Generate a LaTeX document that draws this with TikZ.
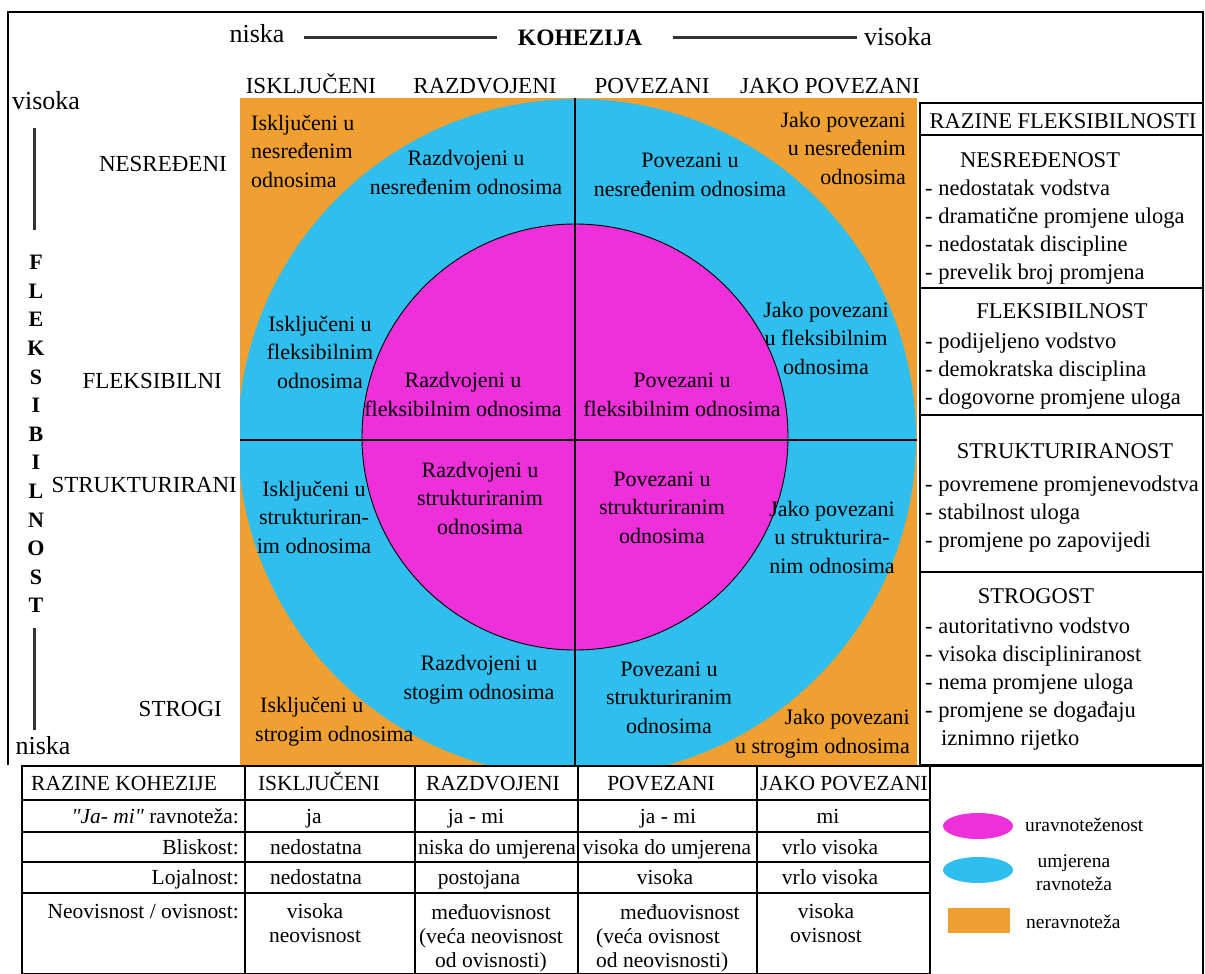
\documentclass[tikz,border=0pt]{standalone}
\usepackage{fontspec}
\setmainfont{Liberation Serif}
\newfontfamily\rawserif{Liberation Serif}[Ligatures=ResetAll]
\definecolor{orng}{RGB}{240,160,48}
\definecolor{blu}{RGB}{48,190,238}
\definecolor{mag}{RGB}{238,48,218}
\begin{document}
\begin{tikzpicture}[x=1pt,y=-1pt,
  txt/.style={font=\fontsize{22}{28.5}\selectfont, inner sep=0pt, align=center, text=black},
  capt/.style={txt, font=\fontsize{23}{28}\selectfont},
  bigt/.style={txt, font=\fontsize{26}{28}\selectfont},
  lst/.style={font=\fontsize{22.5}{27.8}\selectfont, inner sep=0pt, align=left, anchor=base west},
  phd/.style={txt, font=\fontsize{22.5}{28}\selectfont, anchor=base},
  tbl/.style={font=\fontsize{21.5}{24}\selectfont, inner sep=0pt, align=center},
  leg/.style={font=\fontsize{19.5}{23}\selectfont, inner sep=0pt, align=center},
  axisline/.style={line width=3pt, black!80},
  gridline/.style={line width=1.2pt, black},
  quad/.style={line width=2.8pt, black}]
\useasboundingbox (0,0) rectangle (1205,974);
\fill[white] (0,0) rectangle (1205,974);

% outer frame
\draw[gridline] (8,765) -- (8,12) -- (1203,12) -- (1203,974);

% ---------- circle model ----------
\fill[orng] (240,98) rectangle (917,765);
\begin{scope}
  \clip (240,98) rectangle (917,765);
  \fill[blu] (577,438) circle[radius=339pt];
\end{scope}
\filldraw[fill=mag, draw=black, line width=0.9pt] (575,437) circle[radius=213pt];
\draw[quad] (575,98) -- (575,765);
\draw[quad] (240,440) -- (917,440);

% ---------- top axis ----------
\node[bigt, anchor=base] (niskaT) at (257,43) {niska};
\node[txt, anchor=base, font=\bfseries\fontsize{23.5}{28}\selectfont] (koh) at (580,46) {KOHEZIJA};
\node[bigt, anchor=base] (visokaT) at (898,46) {visoka};
\draw[axisline] (304,38) -- (497,38);
\draw[axisline] (673,38) -- (857,38);

\node[capt, anchor=base] (cIsk) at (311,93) {ISKLJUČENI};
\node[capt, anchor=base] (cRaz) at (485,93) {RAZDVOJENI};
\node[capt, anchor=base] (cPov) at (652,93) {POVEZANI};
\node[capt, anchor=base] (cJak) at (830,93) {JAKO POVEZANI};

% ---------- left axis ----------
\node[bigt, anchor=base] (visokaL) at (46,110) {visoka};
\node[bigt, anchor=base] (niskaL) at (43,754) {niska};
\draw[axisline] (34,128) -- (34,230);
\draw[axisline] (34,628) -- (34,730);
\node[txt, font=\bfseries\fontsize{22}{28.6}\selectfont] (fleks) at (36,434)
  {F\\L\\E\\K\\S\\I\\B\\I\\L\\N\\O\\S\\T};

\node[capt, anchor=base east] (rNes) at (227,171) {NESREĐENI};
\node[capt, anchor=base east] (rFle) at (222,388) {FLEKSIBILNI};
\node[capt, anchor=base east] (rStr) at (237,492) {STRUKTURIRANI};
\node[capt, anchor=base east] (rSto) at (222,716) {STROGI};

% ---------- cell labels (anchor = baseline of last line) ----------
\node[txt, align=left, anchor=base west] (q11) at (251,187) {Isključeni u\\nesređenim\\odnosima};
\node[txt, anchor=base] (q12) at (466,194) {Razdvojeni u\\nesređenim odnosima};
\node[txt, anchor=base] (q13) at (690,196) {Povezani u\\nesređenim odnosima};
\node[txt, align=right, anchor=base east] (q14) at (906,184) {Jako povezani\\u nesređenim\\odnosima};

\node[txt, anchor=base] (q21) at (320,388) {Isključeni u\\fleksibilnim\\odnosima};
\node[txt, anchor=base] (q22) at (463,416) {Razdvojeni u\\fleksibilnim odnosima};
\node[txt, anchor=base] (q23) at (682,416) {Povezani u\\fleksibilnim odnosima};
\node[txt, anchor=base] (q24) at (826,374) {Jako povezani\\u fleksibilnim\\odnosima};

\node[txt, anchor=base] (q31) at (314,553) {Isključeni u\\strukturiran-\\im odnosima};
\node[txt, anchor=base] (q32) at (480,534) {Razdvojeni u\\strukturiranim\\odnosima};
\node[txt, anchor=base] (q33) at (662,543) {Povezani u\\strukturiranim\\odnosima};
\node[txt, anchor=base] (q34) at (832,573) {Jako povezani\\u strukturira-\\nim odnosima};

\node[txt, align=left, anchor=base west] (q41) at (255,741) {\hspace*{5pt}Isključeni u\\strogim odnosima};
\node[txt, anchor=base] (q42) at (479,699) {Razdvojeni u\\stogim odnosima};
\node[txt, anchor=base] (q43) at (669,733) {Povezani u\\strukturiranim\\odnosima};
\node[txt, align=right, anchor=base east] (q44) at (910,753) {Jako povezani\\u strogim odnosima};

% ---------- right panel ----------
\draw[gridline] (920,103) rectangle (1203,765);
\draw[line width=2.2pt] (920,135) -- (1203,135);
\draw[gridline] (920,288) -- (1203,288);
\draw[gridline] (920,415) -- (1203,415);
\draw[gridline] (920,572) -- (1203,572);

\node[phd] (rz) at (1063,128) {RAZINE FLEKSIBILNOSTI};
\node[phd] (hNes) at (1040,167) {NESREĐENOST};
\node[lst] (lNes) at (925,279) {- nedostatak vodstva\\- dramatične promjene uloga\\- nedostatak discipline\\- prevelik broj promjena};
\node[phd] (hFle) at (1062,318) {FLEKSIBILNOST};
\node[lst] (lFle) at (925,404) {- podijeljeno vodstvo\\- demokratska disciplina\\- dogovorne promjene uloga};
\node[phd] (hStr) at (1065,458) {STRUKTURIRANOST};
\node[lst] (lStr) at (925,547) {- povremene promjenevodstva\\- stabilnost uloga\\- promjene po zapovijedi};
\node[phd] (hSto) at (1036,603) {STROGOST};
\node[lst] (lSto) at (925,745) {- autoritativno vodstvo\\- visoka discipliniranost\\- nema promjene uloga\\- promjene se događaju\\\hspace*{16pt}iznimno rijetko};

% ---------- bottom table ----------
\draw[gridline] (22,766) rectangle (930,974);
\foreach \yy in {800,832,862,893} \draw[gridline] (22,\yy) -- (930,\yy);
\foreach \xx in {245,415,578,757} \draw[gridline] (\xx,766) -- (\xx,974);

\node[tbl, anchor=base west] (tH0) at (31,790) {RAZINE KOHEZIJE};
\node[tbl, anchor=base] (tH1) at (319,790) {ISKLJUČENI};
\node[tbl, anchor=base] (tH2) at (493,790) {RAZDVOJENI};
\node[tbl, anchor=base] (tH3) at (661,790) {POVEZANI};
\node[tbl, anchor=base] (tH4) at (844,790) {JAKO POVEZANI};

\node[tbl, anchor=base east] (tA0) at (239,823) {{\rawserif\itshape "Ja- mi"} ravnoteža:};
\node[tbl, anchor=base] (tA1) at (314,823) {ja};
\node[tbl, anchor=base] (tA2) at (476,823) {ja - mi};
\node[tbl, anchor=base] (tA3) at (668,823) {ja - mi};
\node[tbl, anchor=base] (tA4) at (828,823) {mi};

\node[tbl, anchor=base east] (tB0) at (239,854) {Bliskost:};
\node[tbl, anchor=base] (tB1) at (316,854) {nedostatna};
\node[tbl, anchor=base] (tB2) at (497,854) {niska do umjerena};
\node[tbl, anchor=base] (tB3) at (667,854) {visoka do umjerena};
\node[tbl, anchor=base] (tB4) at (830,854) {vrlo visoka};

\node[tbl, anchor=base east] (tC0) at (239,884) {Lojalnost:};
\node[tbl, anchor=base] (tC1) at (316,884) {nedostatna};
\node[tbl, anchor=base] (tC2) at (479,884) {postojana};
\node[tbl, anchor=base] (tC3) at (665,884) {visoka};
\node[tbl, anchor=base] (tC4) at (830,884) {vrlo visoka};

\node[tbl, anchor=base east] (tD0) at (239,918) {Neovisnost / ovisnost:};
\node[tbl, anchor=base] (tD1) at (315,942) {visoka\\neovisnost};
\node[tbl, anchor=base] (tD2) at (491,967) {međuovisnost\\(veća neovisnost\\od ovisnosti)};
\node[tbl, align=left, anchor=base west] (tD3) at (596,967) {\hspace*{24pt}međuovisnost\\(veća ovisnost\\od neovisnosti)};
\node[tbl, anchor=base] (tD4) at (826,942) {visoka\\ovisnost};

% ---------- legend ----------
\draw[gridline] (930,766) -- (1203,766);
\fill[mag] (978,826) ellipse[x radius=35pt, y radius=13pt];
\fill[blu] (978,870) ellipse[x radius=35pt, y radius=13pt];
\fill[orng] (948,908) rectangle (1010,933);
\node[leg, anchor=base west] (lg1) at (1025,831) {uravnoteženost};
\node[leg, anchor=base] (lg2) at (1074,890) {umjerena\\ravnoteža};
\node[leg, anchor=base west] (lg3) at (1026,928) {neravnoteža};
\end{tikzpicture}
\end{document}
